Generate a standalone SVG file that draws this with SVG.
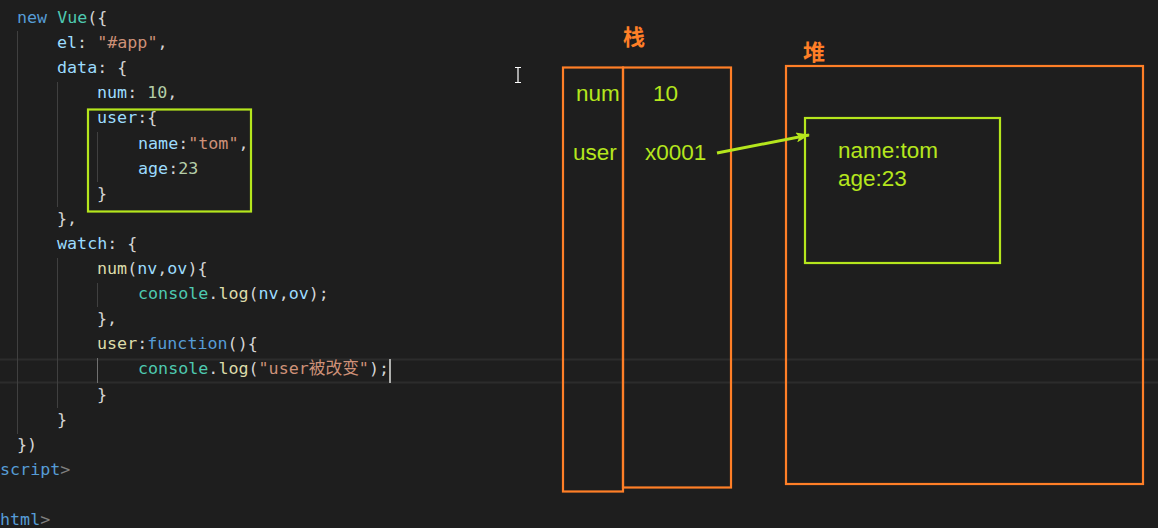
<svg xmlns="http://www.w3.org/2000/svg" width="1158" height="528" viewBox="0 0 1158 528">
<style>
.code{font-family:"DejaVu Sans Mono","Liberation Mono","Noto Sans CJK SC",monospace;font-size:16.7px;fill:#d4d4d4}
.kw{fill:#569cd6}.ty{fill:#4ec9b0}.pr{fill:#9cdcfe}.st{fill:#ce9178}.nu{fill:#b5cea8}.fn{fill:#dcdcaa}.tg{fill:#808080}
.guide{stroke:#404040;stroke-width:1}
.hl{stroke:#2c2c2c;stroke-width:2}
.or{fill:none;stroke:#ff7f27;stroke-width:2.2}
.gr{fill:none;stroke:#b5e61d;stroke-width:2.2}
.lbl{font-family:"Liberation Sans",Arial,sans-serif;font-size:22.5px;fill:#b5e61d}
.cn{font-family:"Noto Sans CJK SC","Noto Sans CJK JP",sans-serif;font-size:22px;font-weight:bold;fill:#ff7f27}
</style>
<defs>
<marker id="ah" viewBox="0 0 14 10" refX="13" refY="5" markerWidth="14" markerHeight="10" markerUnits="userSpaceOnUse" orient="auto">
<path d="M0,0 L14,5 L0,10 L3,5 Z" fill="#b5e61d"/>
</marker>
</defs>
<rect width="1158" height="528" fill="#1e1e1e"/>
<g id="editor">
<line class="hl" x1="0" y1="359.5" x2="1158" y2="359.5"/>
<line class="hl" x1="0" y1="382.5" x2="1158" y2="382.5"/>
<line class="guide" x1="17.5" y1="31" x2="17.5" y2="434"/>
<line class="guide" x1="57.5" y1="82" x2="57.5" y2="207"/>
<line class="guide" x1="57.5" y1="258" x2="57.5" y2="408"/>
<line class="guide" x1="97.5" y1="132" x2="97.5" y2="182"/>
<line class="guide" x1="97.5" y1="283" x2="97.5" y2="307"/>
<line x1="97.5" y1="358" x2="97.5" y2="383" stroke="#707070" stroke-width="1"/>
<g class="code" xml:space="preserve">
<text x="17" y="23"><tspan class="kw">new</tspan> <tspan class="ty">Vue</tspan>({</text>
<text x="57" y="48"><tspan class="pr">el</tspan>: <tspan class="st">"#app"</tspan>,</text>
<text x="57" y="73"><tspan class="pr">data</tspan>: {</text>
<text x="97" y="98"><tspan class="pr">num</tspan>: <tspan class="nu">10</tspan>,</text>
<text x="97" y="123"><tspan class="pr">user</tspan>:{</text>
<text x="138" y="149"><tspan class="pr">name</tspan>:<tspan class="st">"tom"</tspan>,</text>
<text x="138" y="174"><tspan class="pr">age</tspan>:<tspan class="nu">23</tspan></text>
<text x="97" y="199">}</text>
<text x="57" y="224">},</text>
<text x="57" y="249"><tspan class="pr">watch</tspan>: {</text>
<text x="97" y="274"><tspan class="fn">num</tspan>(<tspan class="pr">nv</tspan>,<tspan class="pr">ov</tspan>){</text>
<text x="138" y="299"><tspan class="ty">console</tspan>.<tspan class="fn">log</tspan>(<tspan class="pr">nv</tspan>,<tspan class="pr">ov</tspan>);</text>
<text x="97" y="324">},</text>
<text x="97" y="349"><tspan class="fn">user</tspan>:<tspan class="kw">function</tspan>(){</text>
<text x="138" y="374"><tspan class="ty">console</tspan>.<tspan class="fn">log</tspan>(<tspan class="st">"user被改变"</tspan>);</text>
<text x="97" y="400">}</text>
<text x="57" y="425">}</text>
<text x="17" y="450">})</text>
<text x="0" y="475"><tspan class="kw">script</tspan><tspan class="tg">&gt;</tspan></text>
<text x="0" y="525"><tspan class="kw">html</tspan><tspan class="tg">&gt;</tspan></text>
</g>
<line x1="390" y1="359" x2="390" y2="383" stroke="#aeafad" stroke-width="2"/>
<rect id="code-highlight" class="gr" x="88" y="109.5" width="163" height="102"/>
<path d="M515,67.5 h6 M518,67.5 v15 M515,82.5 h6" stroke="#ffffff" stroke-width="1.2" fill="none"/>
</g>
<g id="stack">
<text class="cn" x="623" y="45">栈</text>
<rect class="or" x="563" y="67.5" width="60" height="424"/>
<rect class="or" x="623" y="67.5" width="108" height="420"/>
<text class="lbl" x="576" y="101">num</text>
<text class="lbl" x="653" y="101">10</text>
<text class="lbl" x="573" y="160">user</text>
<text class="lbl" x="645" y="160">x0001</text>
</g>
<g id="heap">
<text class="cn" x="803" y="60">堆</text>
<rect class="or" x="786" y="66" width="357" height="418"/>
</g>
<g id="heap-object">
<rect class="gr" x="805" y="118" width="195" height="145"/>
<text class="lbl" x="838" y="158">name:tom</text>
<text class="lbl" x="838" y="186">age:23</text>
</g>
<g id="connectors">
<line x1="717" y1="153" x2="809" y2="135" stroke="#b5e61d" stroke-width="3" marker-end="url(#ah)"/>
</g>
</svg>
